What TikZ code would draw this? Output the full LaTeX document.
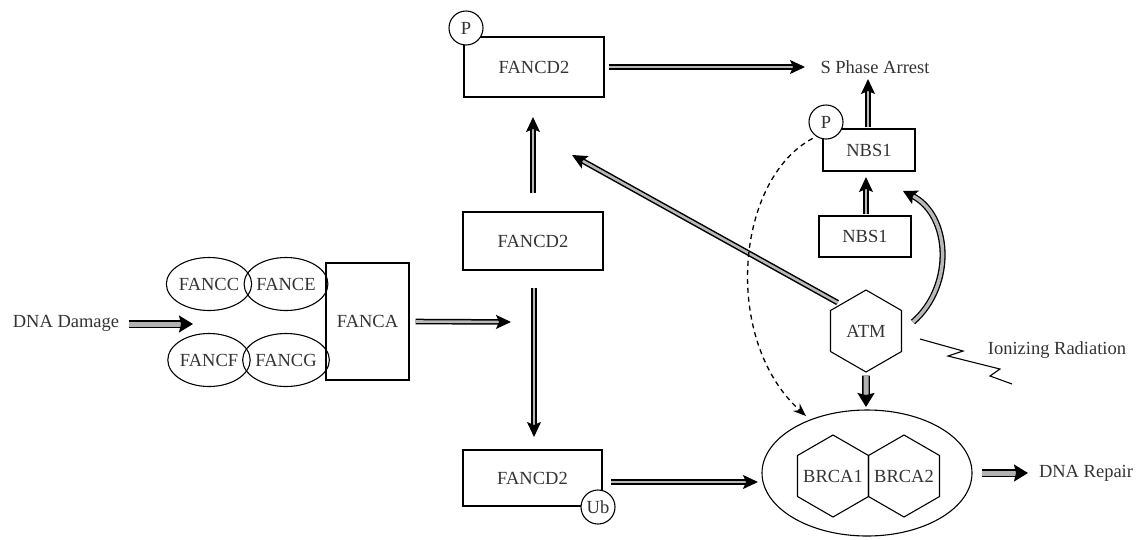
\documentclass[tikz,border=0pt]{standalone}
\usepackage{fontspec}
\setmainfont{Liberation Serif}
\usetikzlibrary{shapes.geometric,arrows.meta}
\begin{document}
\begin{tikzpicture}[x=1pt,y=-1pt,
 every node/.style={font=\fontsize{18.5}{20}\selectfont, text=black!80},
 box/.style={draw, line width=1.1pt, rectangle, inner sep=0pt},
 oval/.style={draw, line width=1.1pt, ellipse, minimum width=78pt, minimum height=53pt, inner sep=0pt},
 tag/.style={draw, line width=1.1pt, circle, fill=white, minimum size=34pt, inner sep=0pt},
 hexa/.style={draw, line width=1.1pt, regular polygon, regular polygon sides=6, shape border rotate=30, minimum size=82pt, inner sep=0pt},
 arr/.style={draw=black, line width=1.5pt, double=gray!55, double distance=2.6pt, -{Stealth[length=15pt,width=14pt,inset=3pt]}},
 fat/.style={draw=black, line width=1.4pt, double=gray!60, double distance=5pt, -{Stealth[length=14pt,width=17pt,inset=2pt]}},
 dasharr/.style={dash pattern=on 5pt off 4pt, line width=1.3pt, -{Stealth[length=13pt,width=10pt]}}
]
\useasboundingbox (0,0) rectangle (1140,539);

% left complex
\node (dmg) at (66,323) {DNA Damage};
\node[oval] (fancc) at (209,284) {FANCC};
\node[oval] (fance) at (286,284) {FANCE};
\node[oval] (fancf) at (209,360) {FANCF};
\node[oval] (fancg) at (286,360) {FANCG};
\node[box, minimum width=83pt, minimum height=117pt] (fanca) at (367.5,321.5) {FANCA};
\coordinate (gap) at (193,324);
\coordinate (mid) at (511,322);

% FANCD2 column
\node[box, minimum width=140pt, minimum height=60pt] (fd2top) at (534,67) {FANCD2};
\node[tag] (ptop) at (466,28) {P};
\node[box, minimum width=140pt, minimum height=58pt] (fd2mid) at (533,241) {FANCD2};
\node[box, minimum width=139pt, minimum height=56pt] (fd2bot) at (532.5,478) {FANCD2};
\node[tag] (ub) at (598,507) {Ub};
\coordinate (uptip) at (533,117);
\coordinate (downtip) at (534,437);

% right side
\node (sphase) at (875,67) {S Phase Arrest};
\coordinate (sptip) at (868,79);
\node[box, minimum width=92pt, minimum height=42pt] (nbsp) at (869,150) {NBS1};
\node[tag] (pn) at (826,122) {P};
\node[box, minimum width=92pt, minimum height=41pt] (nbs) at (865,236.5) {NBS1};
\coordinate (nbstip) at (866,177);
\node[hexa] (atm) at (866,331) {ATM};
\node (ion) at (1057,350) {Ionizing Radiation};
\node[draw, line width=1.1pt, ellipse, minimum width=210pt, minimum height=126pt, inner sep=0pt] (brca) at (867,473) {};
\node[hexa] (brca1) at (833,476) {\makebox[0pt]{BRCA1}};
\node[hexa] (brca2) at (904,476) {\makebox[0pt]{BRCA2}};
\node (repair) at (1086,473) {DNA Repair};
\coordinate (fdtip) at (572,155);
\coordinate (brcain) at (758,482);
\coordinate (brcatop) at (866,407);
\coordinate (reptip) at (1028,473);

% arrows
\draw[fat] (dmg.east) ++(6,1) -- (gap);
\draw[arr] (fanca.east) ++(6,0) -- (mid);
\draw[arr] (fd2mid.north) ++(0,-18) -- (uptip);
\draw[arr] (fd2mid.south) ++(1,17) -- (downtip);
\draw[arr] (fd2top.east) ++(4,0) -- ([xshift=-12pt]sphase.west);
\draw[arr] (fd2bot.east) ++(8,4) -- (brcain);
\draw[arr] (nbsp.north) ++(-1,-1) -- (sptip);
\draw[arr] (nbs.north) ++(1,-1) -- (nbstip);
\draw[arr] (atm.north west) ++(-2,-2) -- (fdtip);
\draw[fat] (atm.south) ++(0,3) -- (brcatop);
\draw[fat] (brca.east) ++(9,0) -- (reptip);
\draw[draw=black, line width=1.3pt, double=gray!55, double distance=3.5pt, -{Stealth[length=14pt,width=15pt,inset=3pt]}]
  (913,322) .. controls (955,285) and (950,215) .. (903,191);
\draw[dasharr] (pn.south west) ++(-1,4) .. controls (735,180) and (722,340) .. (806,416);

% zigzag
\draw[line width=1.1pt] (920,339) -- (963,351) -- (948,356) -- (1000,369) -- (990,376) -- (1012,384);
\end{tikzpicture}
\end{document}
